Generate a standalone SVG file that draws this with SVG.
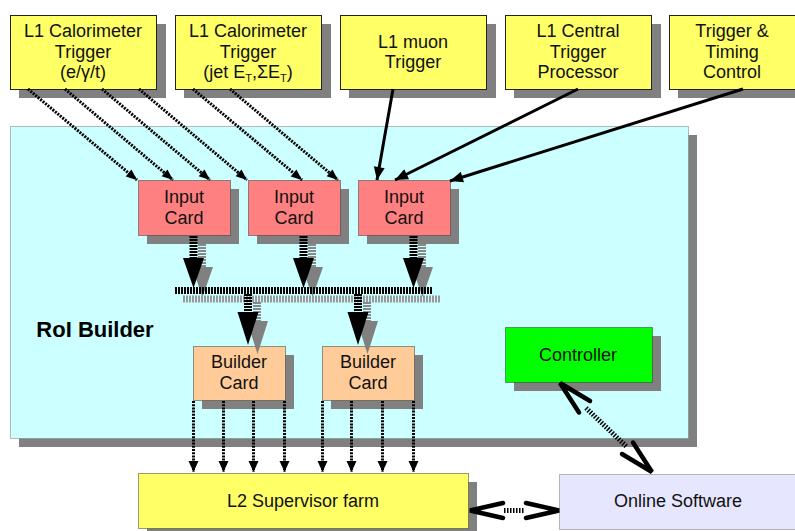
<svg xmlns="http://www.w3.org/2000/svg" width="795" height="531" viewBox="0 0 795 531">
<defs>
<style>
text{font-family:"Liberation Sans",Arial,sans-serif;font-size:18px;fill:#111;text-anchor:middle}
.shadow{fill:#808080}
.top{fill:#FFFF66;stroke:#222;stroke-width:1}
.dotb{stroke:#333;stroke-width:1;stroke-dasharray:1 1}
.input{fill:#FF8080}
.builder{fill:#FFCC99}
.ctrl{fill:#00FF00}
.l2{fill:#FFFF66}
.online{fill:#E6E6FF;stroke:#777;stroke-width:1;stroke-dasharray:1 1}
.roi{fill:#CCFFFF;stroke:#777;stroke-width:1;stroke-dasharray:1 1}
.dotline{fill:none;stroke:#000;stroke-width:3;stroke-dasharray:2 1.2}
.solid{fill:none;stroke:#000;stroke-width:3}
.stem{fill:none;stroke:#000;stroke-width:8;stroke-dasharray:2 1}
.stems{fill:none;stroke:#888;stroke-width:8;stroke-dasharray:2 1}
.bus{fill:none;stroke:#000;stroke-width:7;stroke-dasharray:2 1}
.buss{fill:none;stroke:#999;stroke-width:7;stroke-dasharray:2 1}
.chev{fill:none;stroke:#000;stroke-width:4.5;stroke-linecap:round;stroke-linejoin:miter}
.stripe{fill:none;stroke:#000;stroke-width:5;stroke-dasharray:1.5 1.5}
</style>
<marker id="ahs" markerUnits="userSpaceOnUse" markerWidth="12" markerHeight="10" refX="11" refY="0" orient="auto" overflow="visible"><path d="M0,-4.5 L11,0 L0,4.5 z" fill="#000"/></marker>
<marker id="ahm" markerUnits="userSpaceOnUse" markerWidth="14" markerHeight="12" refX="13" refY="0" orient="auto" overflow="visible"><path d="M0,-5.5 L13,0 L0,5.5 z" fill="#000"/></marker>
<marker id="ahd" markerUnits="userSpaceOnUse" markerWidth="12" markerHeight="12" refX="11" refY="0" orient="auto" overflow="visible"><path d="M0,-5 L11,0 L0,5 z" fill="#000"/></marker>
</defs>
<rect width="795" height="531" fill="#fff"/>

<g id="roi-builder">
<rect class="shadow" x="19" y="135" width="678" height="312"/>
<rect class="roi" x="10.5" y="126.5" width="678" height="312"/>
<text x="95" y="337" style="font-size:22px;font-weight:bold;fill:#000">RoI Builder</text>
</g>

<g id="l1-calo-egamma">
<rect class="shadow" x="19" y="24" width="147" height="74"/>
<rect class="top" x="10.5" y="15.5" width="146" height="74"/>
<text x="83" y="37">L1 Calorimeter</text>
<text x="83" y="58">Trigger</text>
<text x="83" y="78">(e/γ/t)</text>
</g>

<g id="l1-calo-jet">
<rect class="shadow" x="184" y="24" width="147" height="74"/>
<rect class="top" x="175.5" y="15.5" width="146" height="74"/>
<text x="248" y="37">L1 Calorimeter</text>
<text x="248" y="58">Trigger</text>
<text x="248" y="78">(jet E<tspan style="font-size:11px" dy="4">T</tspan><tspan dy="-4">,ΣE</tspan><tspan style="font-size:11px" dy="4">T</tspan><tspan dy="-4">)</tspan></text>
</g>

<g id="l1-muon">
<rect class="shadow" x="349" y="24" width="147" height="74"/>
<rect class="top" x="340.5" y="15.5" width="146" height="74"/>
<text x="413" y="48">L1 muon</text>
<text x="413" y="68">Trigger</text>
</g>

<g id="l1-ctp">
<rect class="shadow" x="514" y="24" width="147" height="74"/>
<rect class="top" x="505.5" y="15.5" width="146" height="74"/>
<text x="578" y="37">L1 Central</text>
<text x="578" y="58">Trigger</text>
<text x="578" y="78">Processor</text>
</g>

<g id="ttc">
<rect class="shadow" x="678" y="24" width="147" height="74"/>
<rect class="top" x="669.5" y="15.5" width="146" height="74"/>
<text x="732" y="37">Trigger &amp;</text>
<text x="732" y="58">Timing</text>
<text x="732" y="78">Control</text>
</g>

<g id="input-card-1">
<rect class="shadow" x="147" y="189" width="92" height="55"/>
<rect class="input dotb" x="138.5" y="180.5" width="92" height="55"/>
<text x="184" y="203">Input</text>
<text x="184" y="224">Card</text>
</g>
<g id="input-card-2">
<rect class="shadow" x="257" y="189" width="92" height="55"/>
<rect class="input dotb" x="248.5" y="180.5" width="92" height="55"/>
<text x="294" y="203">Input</text>
<text x="294" y="224">Card</text>
</g>
<g id="input-card-3">
<rect class="shadow" x="367" y="189" width="92" height="55"/>
<rect class="input dotb" x="358.5" y="180.5" width="92" height="55"/>
<text x="404" y="203">Input</text>
<text x="404" y="224">Card</text>
</g>

<g id="builder-card-1">
<rect class="shadow" x="202" y="355" width="92" height="54"/>
<rect class="builder dotb" x="193.5" y="346.5" width="92" height="54"/>
<text x="239" y="368">Builder</text>
<text x="239" y="389">Card</text>
</g>
<g id="builder-card-2">
<rect class="shadow" x="331" y="355" width="92" height="54"/>
<rect class="builder dotb" x="322.5" y="346.5" width="92" height="54"/>
<text x="368" y="368">Builder</text>
<text x="368" y="389">Card</text>
</g>

<g id="controller">
<rect class="shadow" x="514" y="336" width="147" height="55"/>
<rect class="ctrl dotb" x="505.5" y="327.5" width="147" height="55"/>
<text x="578" y="361">Controller</text>
</g>

<g id="l2-supervisor">
<rect class="shadow" x="147" y="482" width="330" height="55"/>
<rect class="l2 dotb" x="138.5" y="473.5" width="330" height="55"/>
<text x="303" y="507">L2 Supervisor farm</text>
</g>

<g id="online-software">
<rect class="online" x="559.5" y="474.5" width="250" height="55"/>
<text x="678" y="507">Online Software</text>
</g>

<g id="connectors">
<!-- dotted from calorimeter triggers -->
<path class="dotline" d="M28,89 L137,180" marker-end="url(#ahs)"/>
<path class="dotline" d="M65,89 L173,180" marker-end="url(#ahs)"/>
<path class="dotline" d="M102,89 L210,180" marker-end="url(#ahs)"/>
<path class="dotline" d="M139,89 L247,180" marker-end="url(#ahs)"/>
<path class="dotline" d="M193,89 L302,180" marker-end="url(#ahs)"/>
<path class="dotline" d="M230,89 L338,180" marker-end="url(#ahs)"/>
<!-- solid from muon, CTP, TTC -->
<path class="solid" d="M393,89 L377,180" marker-end="url(#ahm)"/>
<path class="solid" d="M578,89 L395,180" marker-end="url(#ahm)"/>
<path class="solid" d="M743,89 L450,181" marker-end="url(#ahm)"/>

<!-- input cards to bus: shadows -->
<path class="stems" d="M202,244 V267"/>
<path class="stems" d="M312,244 V267"/>
<path class="stems" d="M422,244 V267"/>
<path class="shadow" d="M192,267 H213 L202.5,297 z"/>
<path class="shadow" d="M302,267 H323 L312.5,297 z"/>
<path class="shadow" d="M412,267 H433 L422.5,297 z"/>
<path class="buss" d="M183,299 H440"/>
<path class="stems" d="M257,302 V321"/>
<path class="stems" d="M367,302 V321"/>
<path class="shadow" d="M247,321 H268 L257.5,354 z"/>
<path class="shadow" d="M357,321 H378 L367.5,354 z"/>
<!-- input cards to bus -->
<path class="stem" d="M193.5,236 V258"/>
<path class="stem" d="M303.5,236 V258"/>
<path class="stem" d="M413.5,236 V258"/>
<path d="M183,258 H204 L193.5,288 z" fill="#000"/>
<path d="M293,258 H314 L303.5,288 z" fill="#000"/>
<path d="M403,258 H424 L413.5,288 z" fill="#000"/>
<path class="bus" d="M175,290.5 H432"/>
<!-- bus to builder cards -->
<path class="stem" d="M248,294 V312"/>
<path class="stem" d="M358,294 V312"/>
<path d="M237.5,312 H258.5 L248,345 z" fill="#000"/>
<path d="M347.5,312 H368.5 L358,345 z" fill="#000"/>

<!-- builder cards to L2 -->
<path class="dotline" d="M193.5,401 V472" marker-end="url(#ahd)"/>
<path class="dotline" d="M223.5,401 V472" marker-end="url(#ahd)"/>
<path class="dotline" d="M253.5,401 V472" marker-end="url(#ahd)"/>
<path class="dotline" d="M284.5,401 V472" marker-end="url(#ahd)"/>
<path class="dotline" d="M322.5,401 V472" marker-end="url(#ahd)"/>
<path class="dotline" d="M351.5,401 V472" marker-end="url(#ahd)"/>
<path class="dotline" d="M382.5,401 V472" marker-end="url(#ahd)"/>
<path class="dotline" d="M413.5,401 V472" marker-end="url(#ahd)"/>

<!-- L2 <-> Online Software -->
<path class="chev" d="M503,503 L470,510.5 L503,518"/>
<path class="chev" d="M526,503 L559,510.5 L526,518"/>
<path class="stripe" d="M504,510.5 H525"/>

<!-- Controller <-> Online Software -->
<path class="chev" d="M590,401 L560,383 L579,412.5"/>
<path class="chev" d="M622,454 L652,472 L633,442.5"/>
<path class="stripe" d="M586,408 L627,447"/>
</g>
</svg>
